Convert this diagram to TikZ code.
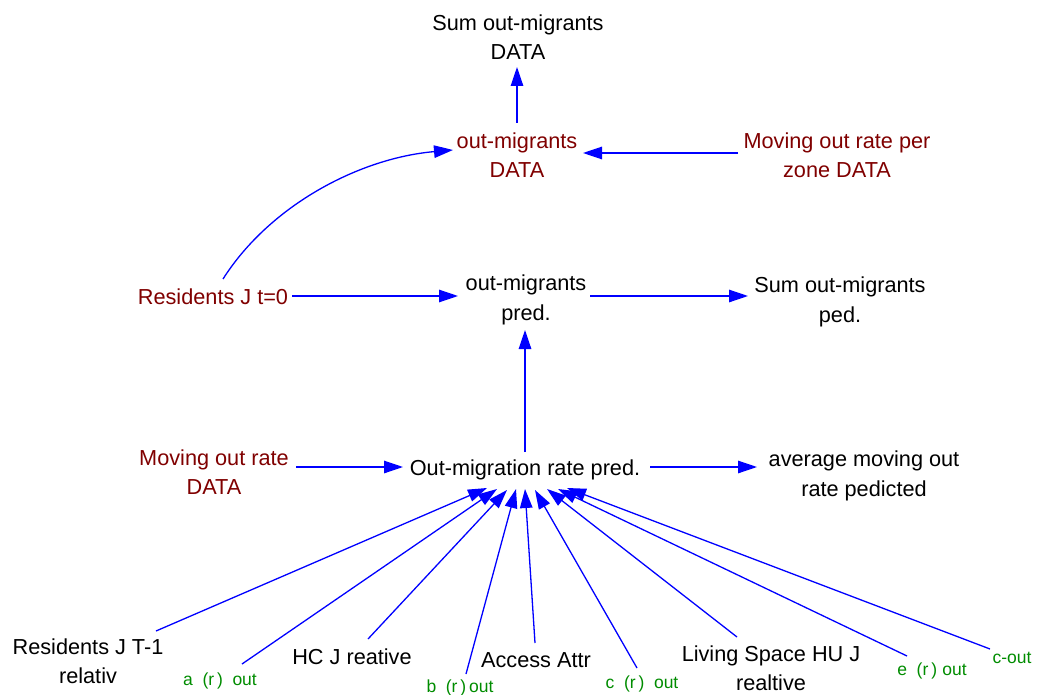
\documentclass[tikz,border=0pt]{standalone}
\usepackage{fontspec}
\setmainfont{Liberation Sans}
\usetikzlibrary{arrows.meta}
\definecolor{dred}{RGB}{128,0,0}
\definecolor{dgreen}{RGB}{0,140,0}
\begin{document}
\begin{tikzpicture}[x=1pt,y=-1pt,
  lbl/.style={font=\fontsize{21.7}{29.5}\selectfont, align=center, inner sep=0pt, text=black},
  rlbl/.style={lbl, text=dred},
  glbl/.style={font=\fontsize{17.5}{20}\selectfont, inner sep=0pt, text=dgreen},
  arr/.style={draw=blue, line width=1.3pt, -{Triangle[length=19pt,width=12.5pt]}}]
\useasboundingbox (0,0) rectangle (1038,695);
% nodes
\node[lbl]  (sod) at (518,37)  {Sum out-migrants\\DATA};
\node[rlbl] (omd) at (517,155) {out-migrants\\DATA};
\node[rlbl] (mor) at (837,155) {Moving out rate per\\zone DATA};
\node[rlbl] (rj0) at (213,297) {Residents J t=0};
\node[lbl]  (omp) at (526,300) {out-migrants\\pred.};
\node[lbl]  (sop) at (840,302) {Sum out-migrants\\ped.};
\node[rlbl] (mod) at (214,472) {Moving out rate\\DATA};
\node[lbl]  (om)  at (525,470) {Out-migration rate pred.};
\node[lbl]  (avg) at (864,476) {average moving out\\rate pedicted};
\node[lbl]  (r1)  at (88,661)  {Residents J T-1\\relativ};
\node[glbl] (ga)  at (220,681) {a\hspace{0.55em}(r\,)\hspace{0.55em}out};
\node[lbl]  (hc)  at (352,657) {HC J reative};
\node[glbl] (gb)  at (460,688) {b\hspace{0.55em}(r\,)\,out};
\node[lbl]  (acc) at (536,660) {Access Attr};
\node[glbl] (gc)  at (642,684) {c\hspace{0.55em}(r\,)\hspace{0.55em}out};
\node[lbl]  (liv) at (771,668) {Living Space HU J\\realtive};
\node[glbl] (ge)  at (932,671) {e\hspace{0.55em}(r\,)\hspace{0.3em}out};
\node[glbl] (gco) at (1012,658) {c-out};
% connectors
\draw[arr] ([shift={(0,-32)}]omd.center) -- ([shift={(-1,30)}]sod.center);
\draw[arr] ([shift={(-99,-2)}]mor.center) -- ([shift={(66,-2)}]omd.center);
\draw[arr] ([shift={(10,-18)}]rj0.center) .. controls (270,205) and (360,158) .. ([shift={(-64,-5)}]omd.center);
\draw[arr] ([shift={(79,-1)}]rj0.center) -- ([shift={(-68,-4)}]omp.center);
\draw[arr] ([shift={(64,-4)}]omp.center) -- ([shift={(-92,-6)}]sop.center);
\draw[arr] ([shift={(0,-18)}]om.center) -- ([shift={(-1,30)}]omp.center);
\draw[arr] ([shift={(82,-5)}]mod.center) -- ([shift={(-122,-3)}]om.center);
\draw[arr] ([shift={(125,-3)}]om.center) -- ([shift={(-107,-9)}]avg.center);
% fan-in
\draw[arr] ([shift={(68,-30)}]r1.center)  -- ([shift={(-38,18)}]om.center);
\draw[arr] ([shift={(22,-17)}]ga.center)  -- ([shift={(-28,19)}]om.center);
\draw[arr] ([shift={(16,-18)}]hc.center)  -- ([shift={(-18,20)}]om.center);
\draw[arr] ([shift={(6,-14)}]gb.center)   -- ([shift={(-9,19)}]om.center);
\draw[arr] ([shift={(-1,-17)}]acc.center) -- ([shift={(0,19)}]om.center);
\draw[arr] ([shift={(-5,-16)}]gc.center)  -- ([shift={(10,20)}]om.center);
\draw[arr] ([shift={(-34,-31)}]liv.center) -- ([shift={(22,19)}]om.center);
\draw[arr] ([shift={(-25,-15)}]ge.center) -- ([shift={(33,19)}]om.center);
\draw[arr] ([shift={(-22,-9)}]gco.center) -- ([shift={(42,18)}]om.center);
\end{tikzpicture}
\end{document}
